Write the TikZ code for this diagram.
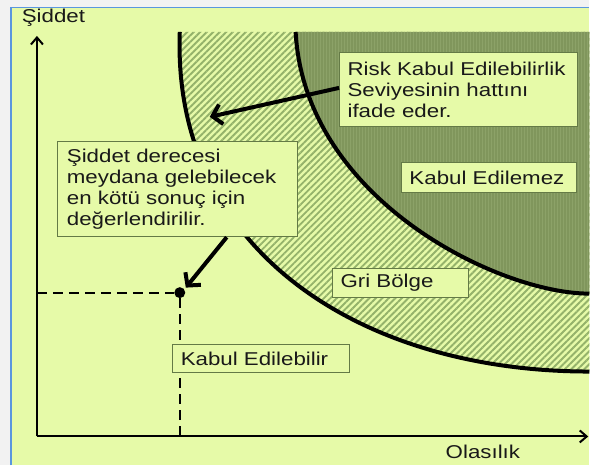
\documentclass[tikz,border=0pt]{standalone}
\usepackage{fontspec}
\setmainfont{Liberation Sans}[FakeStretch=1.2]
\usetikzlibrary{arrows.meta,patterns.meta,calc}

\definecolor{paper}{RGB}{230,250,168}
\definecolor{zonedark}{RGB}{128,150,92}
\definecolor{zonetexture}{RGB}{140,162,104}
\definecolor{hatchline}{RGB}{148,178,106}
\definecolor{boxline}{RGB}{100,122,70}
\definecolor{frameblue}{RGB}{90,150,222}
\definecolor{margin}{RGB}{242,242,242}

\tikzset{
  label/.style={font=\fontsize{18.6}{21}\selectfont, text=black!90, inner sep=0pt},
  infobox/.style={draw=boxline, line width=1pt, fill=paper, align=left,
    font=\fontsize{18.6}{21}\selectfont, text=black!90,
    inner xsep=8pt, inner ysep=0pt},
  boundary/.style={line width=4pt, black},
  axis/.style={line width=2pt, -{Straight Barb[length=7pt,width=12pt]}},
  guide/.style={line width=2pt, dash pattern=on 10pt off 6pt},
  pointer/.style={line width=4pt, -{Straight Barb[length=9pt,width=20pt]}},
}

\begin{document}
\begin{tikzpicture}[x=1pt,y=-1pt]
  % page and frame
  \fill[margin] (0,0) rectangle (590,466);
  \fill[paper] (12,8) rectangle (590,466);
  \draw[frameblue, line width=1.5pt] (11,466) -- (11,7.5) -- (590,7.5);
  \useasboundingbox (0,0) rectangle (590,466);

  % grey zone (hatched band)
  \path[fill=paper] (180,32) .. controls (172,250) and (360,372) .. (590,372)
        -- (590,32) -- cycle;
  \path[pattern={Lines[angle=45,distance=4.6pt,line width=1.9pt]}, pattern color=hatchline]
        (180,32) .. controls (172,250) and (360,372) .. (590,372)
        -- (590,32) -- cycle;
  % unacceptable zone
  \fill[zonedark] (296,32) .. controls (305,200) and (500,294) .. (590,294)
        -- (590,32) -- cycle;
  \path[pattern={Lines[angle=90,distance=3pt,line width=0.7pt]}, pattern color=zonetexture]
        (296,32) .. controls (305,200) and (500,294) .. (590,294)
        -- (590,32) -- cycle;

  % risk boundaries
  \draw[boundary] (180,32) .. controls (172,250) and (360,372) .. (590,372);
  \draw[boundary] (296,32) .. controls (305,200) and (500,294) .. (590,294);

  % axes
  \coordinate (O) at (37,437);
  \coordinate (ytop) at (37,36);
  \coordinate (xend) at (589,437);
  \draw[axis] (O) -- (ytop);
  \draw[axis] (O) -- (xend);
  \node[label] (ylab) at (53.5,18) {Şiddet};
  \node[label] (xlab) at (483.5,452) {Olasılık};

  % worst-case point and its projections
  \node[circle, fill=black, inner sep=0pt, minimum size=11pt] (pt) at (180,293) {};
  \draw[guide] (O |- pt) -- (pt);
  \draw[guide] (pt) -- (pt |- O);

  % labels
  \node[infobox, text width=222pt, minimum height=74pt] (risk) at (459,90)
    {Risk Kabul Edilebilirlik\\Seviyesinin hattını\\ifade eder.};
  \node[infobox, text width=159pt, minimum height=30pt] (red) at (489.5,178)
    {Kabul Edilemez};
  \node[infobox, text width=222pt, minimum height=95pt, inner xsep=9pt] (sev) at (178,189.5)
    {Şiddet derecesi\\meydana gelebilecek\\en kötü sonuç için\\değerlendirilir.};
  \node[infobox, text width=120pt, minimum height=29pt] (grey) at (401,283.5)
    {Gri Bölge};
  \node[infobox, text width=161pt, minimum height=28pt] (ok) at (261.5,359)
    {Kabul Edilebilir};

  % pointers
  \coordinate (lineTip) at (210,117);
  \draw[pointer] ([yshift=2pt]risk.west) -- (lineTip);
  \draw[pointer] ($(sev.south)+(49,0)$) -- ([xshift=2pt,yshift=1pt]pt.north east);
\end{tikzpicture}
\end{document}
